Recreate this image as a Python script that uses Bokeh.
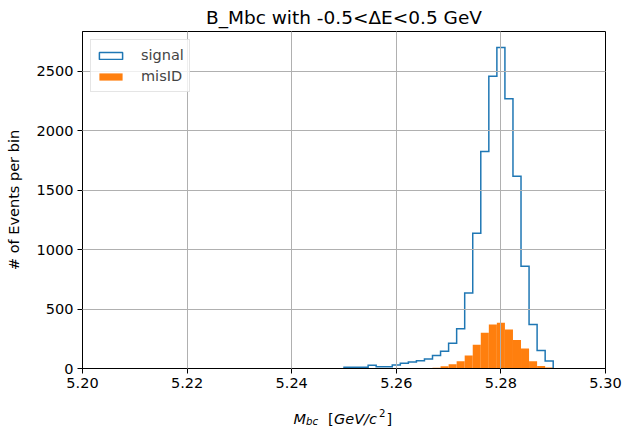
import numpy as np
from bokeh.plotting import figure
from bokeh.layouts import column
from bokeh.models import (ColumnDataSource, Range1d, FixedTicker, Legend, LegendItem,
                          NumeralTickFormatter)
from bokeh.core.properties import value
from bokeh.embed import file_html
from bokeh.resources import INLINE

# ---- data ----
bin_lo, bin_hi, n_bins = 5.25, 5.29, 26
signal_counts = [10, 10, 10, 28, 15, 15, 30, 45, 55, 65, 80, 110, 145, 212, 335,
                 635, 1137, 1825, 2458, 2700, 2270, 1618, 860, 370, 152, 63]
misid_counts = [0, 0, 0, 0, 0, 0, 0, 0, 0, 0, 0, 6, 18, 35, 60,
                110, 200, 300, 370, 385, 329, 239, 168, 60, 20, 8]
x_ticks = [5.20, 5.22, 5.24, 5.26, 5.28, 5.30]
y_ticks = [0, 500, 1000, 1500, 2000, 2500]
title_text = "B_Mbc with -0.5<\u0394E<0.5 GeV"
y_label = "# of Events per bin"

edges = np.linspace(bin_lo, bin_hi, n_bins + 1)
sig = np.array(signal_counts, dtype=float)
mis = np.array(misid_counts, dtype=float)

BLUE = "#1f77b4"
ORANGE = "#ff7f0e"
FONT = "DejaVu Sans"
FS = "14.5px"

p = figure(width=625, height=398, output_backend="svg", toolbar_location=None,
           x_range=Range1d(5.20, 5.30), y_range=Range1d(0, 2835),
           min_border_left=82, min_border_right=20, min_border_top=30, min_border_bottom=30)

p.title.text = title_text
p.title.align = "center"
p.title.text_font = FONT
p.title.text_font_size = "18.5px"
p.title.text_font_style = "normal"
p.title.text_color = "black"
p.title.standoff = 8

# misID filled histogram
mis_src = ColumnDataSource(dict(left=edges[:-1], right=edges[1:], top=mis, bottom=np.zeros_like(mis)))
r_mis = p.quad(left="left", right="right", top="top", bottom="bottom", source=mis_src,
               fill_color=ORANGE, line_color=None)

# signal step outline
xs = np.repeat(edges, 2)
ys = np.concatenate([[0.0], np.repeat(sig, 2), [0.0]])
p.line(xs, ys, line_color=BLUE, line_width=1.5, line_join="miter")

# legend proxy for signal (box glyph with no drawable data)
proxy_src = ColumnDataSource(dict(left=[np.nan], right=[np.nan], top=[np.nan], bottom=[np.nan]))
r_proxy = p.quad(left="left", right="right", top="top", bottom="bottom", source=proxy_src,
                 fill_color=None, line_color=BLUE, line_width=1.5)

legend = Legend(items=[LegendItem(label="signal", renderers=[r_proxy]),
                       LegendItem(label="misID", renderers=[r_mis])],
                location="top_left")
legend.margin = 8
legend.padding = 5
legend.spacing = 1
legend.glyph_width = 29
legend.glyph_height = 9
legend.label_standoff = 16
legend.label_text_font = FONT
legend.label_text_font_size = FS
legend.label_height = 20
legend.border_line_color = "#cccccc"
legend.border_line_width = 1
legend.background_fill_alpha = 0.8
p.add_layout(legend, "center")

# axes
for ax in (p.xaxis[0], p.yaxis[0]):
    ax.major_tick_out = 5
    ax.major_tick_in = 0
    ax.minor_tick_line_color = None
    ax.axis_line_color = "black"
    ax.major_tick_line_color = "black"
    ax.major_label_text_font = FONT
    ax.major_label_text_font_size = FS
    ax.major_label_text_color = "black"
    ax.major_label_standoff = 4

p.xaxis.ticker = FixedTicker(ticks=x_ticks)
p.xaxis.formatter = NumeralTickFormatter(format="0.00")
p.yaxis.ticker = FixedTicker(ticks=y_ticks)

p.yaxis.axis_label = y_label
p.yaxis.axis_label_text_font = FONT
p.yaxis.axis_label_text_font_size = FS
p.yaxis.axis_label_text_font_style = "normal"
p.yaxis.axis_label_text_color = "black"
p.yaxis.axis_label_standoff = 12

p.grid.grid_line_color = "#b0b0b0"
p.grid.grid_line_width = 1
p.grid.level = "guide"
p.xgrid.ticker = FixedTicker(ticks=x_ticks)
p.ygrid.ticker = FixedTicker(ticks=y_ticks)

p.outline_line_color = "black"
p.outline_line_width = 1
p.background_fill_color = "white"
p.border_fill_color = "white"

# ---- x-axis label strip: M_bc  [GeV/c^2] (frame is aligned with the main plot's frame) ----
q = figure(width=625, height=29, output_backend="svg", toolbar_location=None,
           x_range=Range1d(82, 605), y_range=Range1d(0, 29),
           x_axis_location=None, y_axis_location=None,
           min_border_left=82, min_border_right=20, min_border_top=0, min_border_bottom=0)
q.grid.visible = False
q.outline_line_color = None
q.background_fill_color = "white"
q.border_fill_color = "white"

pieces = [
    ("M", 293.0, 9, "italic", "14.5px"),
    ("bc", 305.5, 6, "italic", "10.2px"),
    ("[", 327.5, 9, "normal", "14.5px"),
    ("GeV/c", 333.5, 9, "italic", "14.5px"),
    ("2", 378.5, 15, "normal", "10.2px"),
    ("]", 386.0, 9, "normal", "14.5px"),
]
for txt, px, py, style, size in pieces:
    q.text(x=[px], y=[py], text=[txt], text_font=value(FONT), text_font_size=size,
           text_font_style=style, text_color="black", text_align="left",
           text_baseline="alphabetic")

layout = column(p, q, spacing=0)
open("out.html", "w").write(file_html(layout, INLINE))
